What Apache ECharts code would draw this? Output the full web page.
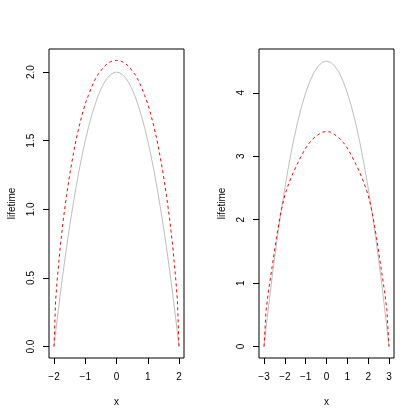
<!DOCTYPE html>
<html>
<head>
<meta charset="utf-8">
<script src="https://cdn.jsdelivr.net/npm/echarts@6/dist/echarts.min.js"></script>
<style>html,body{margin:0;padding:0;background:#fff;}#c{width:420px;height:420px;}</style>
</head>
<body>
<div id="c"></div>
<script>
// ---- Left panel data ----
const leftX = [-2,-1.95,-1.9,-1.8,-1.7,-1.6,-1.5,-1.4,-1.3,-1.2,-1.1,-1.0,-0.9,-0.8,-0.7,-0.6,-0.5,-0.4,-0.3,-0.2,-0.1,0,
  0.1,0.2,0.3,0.4,0.5,0.6,0.7,0.8,0.9,1.0,1.1,1.2,1.3,1.4,1.5,1.6,1.7,1.8,1.9,1.95,2];
const leftGray = [0,0.099,0.195,0.38,0.555,0.72,0.875,1.02,1.155,1.28,1.395,1.5,1.595,1.68,1.755,1.82,1.875,1.92,1.955,1.98,1.995,2.0,
  1.995,1.98,1.955,1.92,1.875,1.82,1.755,1.68,1.595,1.5,1.395,1.28,1.155,1.02,0.875,0.72,0.555,0.38,0.195,0.099,0];
const leftRed = [0,0.33,0.48,0.73,0.93,1.10,1.25,1.38,1.50,1.60,1.69,1.77,1.83,1.89,1.94,1.98,2.01,2.04,2.06,2.075,2.083,2.085,
  2.083,2.075,2.06,2.04,2.01,1.98,1.94,1.89,1.83,1.77,1.69,1.60,1.50,1.38,1.25,1.10,0.93,0.73,0.48,0.33,0];
const leftXTicks = [-2,-1,0,1,2];
const leftYTicks = [0,0.5,1,1.5,2];
const leftYTickLabels = ['0.0','0.5','1.0','1.5','2.0'];

// ---- Right panel data ----
const rightX = [-3,-2.9,-2.8,-2.6,-2.4,-2.2,-2.0,-1.8,-1.6,-1.4,-1.2,-1.0,-0.8,-0.6,-0.4,-0.2,0,
  0.2,0.4,0.6,0.8,1.0,1.2,1.4,1.6,1.8,2.0,2.2,2.4,2.6,2.8,2.9,3];
const rightGray = [0,0.295,0.58,1.12,1.62,2.08,2.5,2.88,3.22,3.52,3.78,4.0,4.18,4.32,4.42,4.48,4.5,
  4.48,4.42,4.32,4.18,4.0,3.78,3.52,3.22,2.88,2.5,2.08,1.62,1.12,0.58,0.295,0];
const rightRed = [0,0.57,0.84,1.28,1.72,2.11,2.39,2.58,2.74,2.88,3.01,3.13,3.22,3.29,3.34,3.38,3.39,
  3.38,3.34,3.29,3.22,3.13,3.01,2.88,2.74,2.58,2.39,2.11,1.72,1.28,0.84,0.57,0];
const rightXTicks = [-3,-2,-1,0,1,2,3];
const rightYTicks = [0,1,2,3,4];
const rightYTickLabels = ['0','1','2','3','4'];

const FONT = 'Liberation Sans';
const pairs = (xs, ys) => xs.map((x, i) => [x, ys[i]]);
const minus = v => String(v).replace('-', '\u2212');

function xAxisFor(idx, min, max, ticks) {
  return {
    type: 'value', gridIndex: idx, min: min, max: max, position: 'bottom',
    splitLine: {show: false},
    axisLine: {show: false, onZero: false},
    axisTick: {show: true, inside: false, length: 6, customValues: ticks, lineStyle: {color: '#000', width: 1}},
    axisLabel: {show: true, customValues: ticks, margin: 14, fontFamily: FONT, fontSize: 10, color: '#000',
      formatter: v => minus(v)},
    name: 'x', nameLocation: 'middle', nameGap: 39,
    nameTextStyle: {fontFamily: FONT, fontSize: 10, color: '#000'}
  };
}
function yAxisFor(idx, min, max, ticks, labels) {
  return {
    type: 'value', gridIndex: idx, min: min, max: max, position: 'left',
    splitLine: {show: false},
    axisLine: {show: false, onZero: false},
    axisTick: {show: true, inside: false, length: 6, customValues: ticks, lineStyle: {color: '#000', width: 1}},
    axisLabel: {show: true, customValues: ticks, rotate: 90, margin: 13, fontFamily: FONT, fontSize: 10, color: '#000',
      formatter: v => { const i = ticks.findIndex(t => Math.abs(t - v) < 1e-9); return i >= 0 ? labels[i] : ''; }},
    name: 'lifetime', nameLocation: 'middle', nameGap: 32, nameRotate: 90,
    nameTextStyle: {fontFamily: FONT, fontSize: 10, color: '#000'}
  };
}

const chart = echarts.init(document.getElementById('c'), null, {renderer: 'canvas'});
chart.setOption({
  animation: false,
  backgroundColor: '#fff',
  grid: [
    {left: 49, top: 49, width: 135, height: 309, show: true, borderColor: '#000', borderWidth: 1, backgroundColor: 'transparent'},
    {left: 259, top: 49, width: 135, height: 309, show: true, borderColor: '#000', borderWidth: 1, backgroundColor: 'transparent'}
  ],
  xAxis: [xAxisFor(0, -2.16, 2.16, leftXTicks), xAxisFor(1, -3.24, 3.24, rightXTicks)],
  yAxis: [yAxisFor(0, -0.0834, 2.1684, leftYTicks, leftYTickLabels), yAxisFor(1, -0.1804, 4.6904, rightYTicks, rightYTickLabels)],
  series: [
    {type: 'line', xAxisIndex: 0, yAxisIndex: 0, data: pairs(leftX, leftGray), showSymbol: false, smooth: false,
      lineStyle: {color: '#bebebe', width: 1}},
    {type: 'line', xAxisIndex: 0, yAxisIndex: 0, data: pairs(leftX, leftRed), showSymbol: false, smooth: false,
      lineStyle: {color: '#ff0000', width: 1, type: [3, 3]}},
    {type: 'line', xAxisIndex: 1, yAxisIndex: 1, data: pairs(rightX, rightGray), showSymbol: false, smooth: false,
      lineStyle: {color: '#bebebe', width: 1}},
    {type: 'line', xAxisIndex: 1, yAxisIndex: 1, data: pairs(rightX, rightRed), showSymbol: false, smooth: false,
      lineStyle: {color: '#ff0000', width: 1, type: [3, 3]}}
  ]
});
</script>
</body>
</html>
